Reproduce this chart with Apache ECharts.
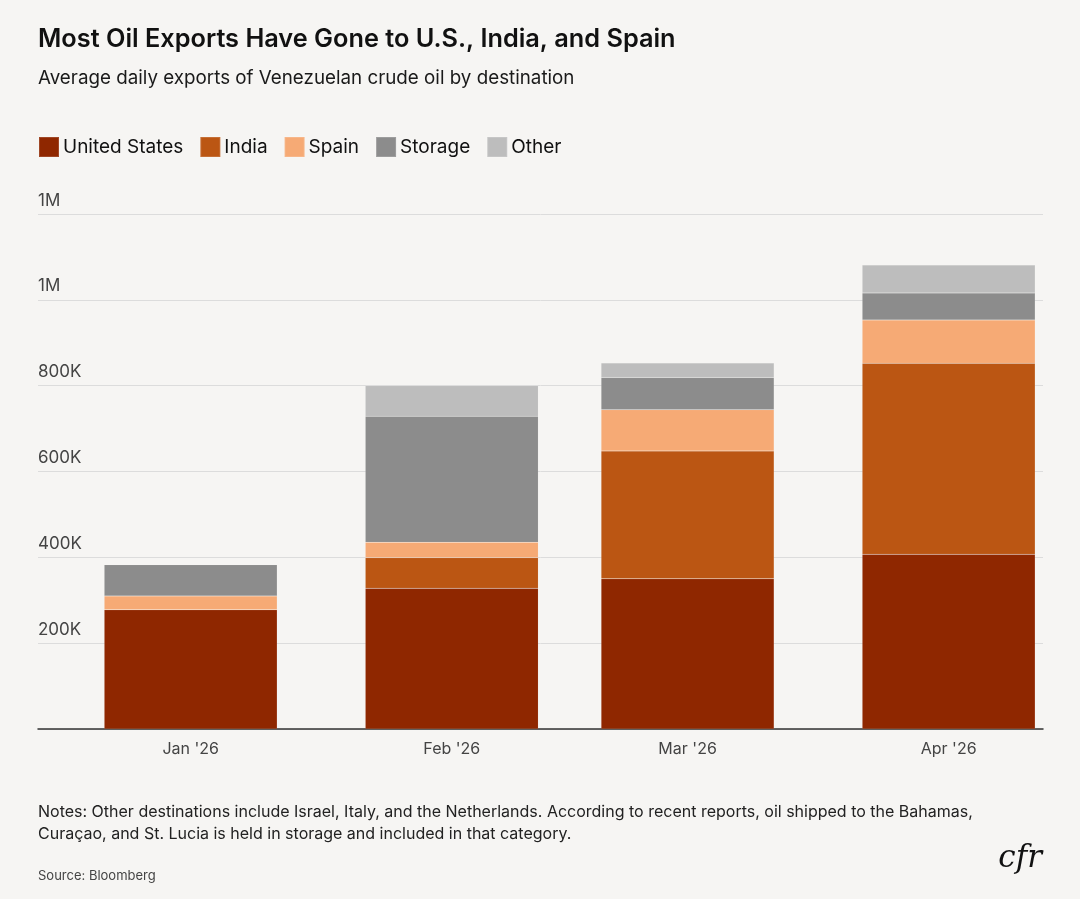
<!DOCTYPE html>
<html><head><meta charset="utf-8">
<script src="https://cdn.jsdelivr.net/npm/echarts@6/dist/echarts.min.js"></script>
<style>html,body{margin:0;padding:0;background:#f6f5f3;}#c{width:1080px;height:899px;}</style>
</head><body><div id="c"></div>
<script>
const categories = ["Jan '26", "Feb '26", "Mar '26", "Apr '26"];
const monthStarts = ['2026-01-01', '2026-02-01', '2026-03-01', '2026-04-01'];
const unitedStates = [278000, 328000, 350000, 407000];
const india = [0, 71000, 298000, 445000];
const spain = [32000, 36000, 96000, 101000];
const storage = [73000, 294000, 75000, 63000];
const other = [0, 71000, 34000, 65000];
const yTickLabels = ['', '200K', '400K', '600K', '800K', '1M', '1M'];

const seriesNames = ['United States', 'India', 'Spain', 'Storage', 'Other'];
const seriesData = [unitedStates, india, spain, storage, other];
const colors = ['#8f2700', '#bb5613', '#f6aa75', '#8c8c8c', '#bdbdbd'];

const DAY = 86400000;
const t0 = Date.parse(monthStarts[0] + 'T00:00:00Z');
const dayPos = monthStarts.map(d => Math.round((Date.parse(d + 'T00:00:00Z') - t0) / DAY));

const FONT = 'Inter, "Noto Sans", sans-serif';
const chart = echarts.init(document.getElementById('c'), null, {renderer: 'canvas'});
chart.setOption({
  backgroundColor: '#f6f5f3',
  animation: false,
  color: colors,
  title: [
    {text: 'Most Oil Exports Have Gone to U.S., India, and Spain', left: 38, top: 27, padding: 0,
     textStyle: {fontFamily: FONT, fontSize: 25.3, fontWeight: 600, color: '#111'}},
    {text: 'Average daily exports of Venezuelan crude oil by destination', left: 38, top: 69, padding: 0,
     textStyle: {fontFamily: FONT, fontSize: 18.8, fontWeight: 400, color: '#1a1a1a'}},
    {text: 'Notes: Other destinations include Israel, Italy, and the Netherlands. According to recent reports, oil shipped to the Bahamas,\nCuraçao, and St. Lucia is held in storage and included in that category.',
     left: 38, top: 801, padding: 0,
     textStyle: {fontFamily: FONT, fontSize: 16, fontWeight: 400, color: '#222', lineHeight: 22}},
    {text: 'Source: Bloomberg', left: 38, top: 870, padding: 0,
     textStyle: {fontFamily: FONT, fontSize: 13, fontWeight: 400, color: '#444'}},
    {text: 'cfr', right: 38, top: 843, padding: 0,
     textStyle: {fontFamily: '"DejaVu Serif", "Liberation Serif", serif', fontSize: 31, fontStyle: 'italic', fontWeight: 400, color: '#111'}}
  ],
  legend: {
    left: 38, top: 136, itemWidth: 20, itemHeight: 20, itemGap: 16, padding: 0,
    icon: 'rect',
    textStyle: {fontFamily: FONT, fontSize: 19, color: '#111', padding: [0, 0, 0, -1]},
    data: seriesNames
  },
  grid: {left: 38, right: 37, top: 214, bottom: 170, containLabel: false},
  xAxis: {
    type: 'value', min: -18.13, max: 101.2,
    axisLine: {show: true, onZero: false, lineStyle: {color: '#333', width: 1.5}},
    axisTick: {show: false},
    splitLine: {show: false},
    axisLabel: {
      customValues: dayPos,
      margin: 12,
      fontFamily: FONT, fontSize: 16, color: '#444',
      formatter: v => { const i = dayPos.indexOf(Math.round(v)); return i >= 0 ? categories[i] : ''; }
    }
  },
  yAxis: {
    type: 'value', min: 0, max: 1200000, interval: 200000,
    axisLine: {show: false}, axisTick: {show: false},
    splitLine: {lineStyle: {color: '#dcdcdc', width: 1}},
    axisLabel: {
      inside: true, margin: 0, verticalAlign: 'bottom', padding: [0, 0, 5, 0],
      fontFamily: FONT, fontSize: 17, color: '#444',
      formatter: v => yTickLabels[Math.round(v / 200000)]
    }
  },
  series: seriesNames.map((name, si) => ({
    name, type: 'bar', stack: 'total', barWidth: 173,
    encode: {x: 1, y: 0},
    itemStyle: {color: colors[si], borderColor: 'rgba(255,255,255,0.15)', borderWidth: 0.5},
    data: seriesData[si].map((v, i) => [v, dayPos[i]])
  }))
});
</script></body></html>
